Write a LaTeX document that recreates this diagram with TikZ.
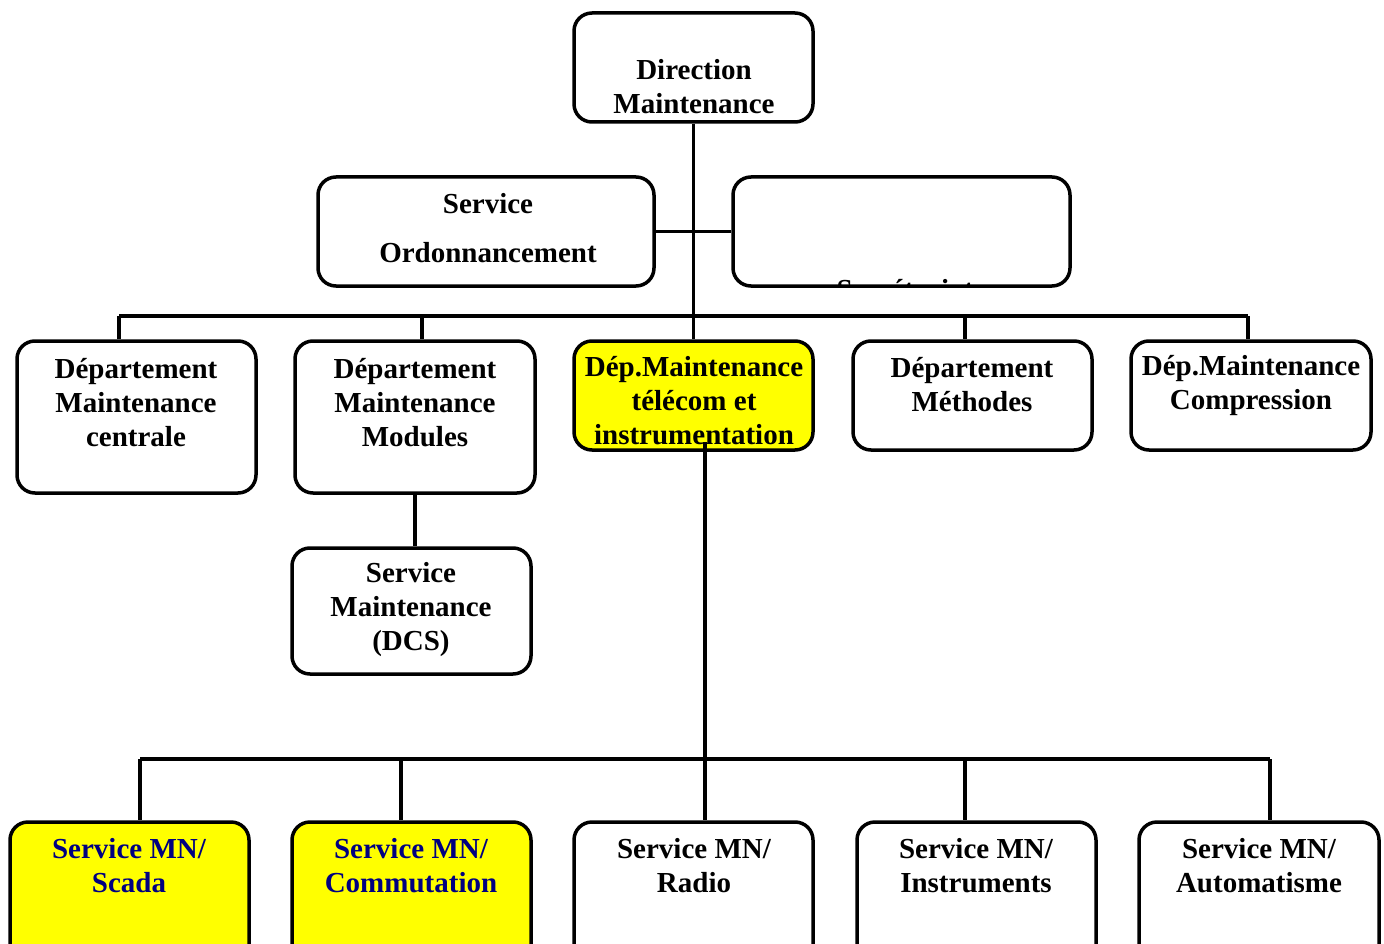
\documentclass[tikz,border=0pt]{standalone}
\usepackage{fontspec}
\setmainfont{Liberation Serif}
\definecolor{navyblue}{RGB}{0,0,128}
\definecolor{hiyellow}{RGB}{255,255,0}
\begin{document}
\begin{tikzpicture}[x=1pt,y=-1pt,
  box/.style={draw=black, line width=3.5pt, rounded corners=18pt, inner sep=0pt, fill=white},
  ybox/.style={box, fill=hiyellow},
  txt/.style={font=\bfseries\fontsize{29}{34}\selectfont, align=center, inner sep=0pt},
  ntxt/.style={txt, text=navyblue},
  conn/.style={line width=3.3pt, draw=black}]
\clip (0,0) rectangle (1384,944);
\useasboundingbox (0,0) rectangle (1384,944);
\fill[white] (0,0) rectangle (1384,944);

% coordinates of bars
\coordinate (t1) at (119,316);
\coordinate (t2) at (422,316);
\coordinate (t4) at (965,316);
\coordinate (t5) at (1248,316);
\coordinate (u1) at (140,759);
\coordinate (u2) at (401,759);
\coordinate (u3) at (705,759);
\coordinate (u4) at (965,759);
\coordinate (u5) at (1270,759);
\coordinate (d3) at (705,442);

% boxes
\node[box, minimum width=239pt, minimum height=109pt] (dir) at (693.5,67.5) {};
\node[box, minimum width=336pt, minimum height=109pt] (ord) at (486,231.5) {};
\node[box, minimum width=337pt, minimum height=109pt] (sec) at (901.5,231.5) {};
\node[box, minimum width=239pt, minimum height=152pt] (c1) at (136.5,417) {};
\node[box, minimum width=240pt, minimum height=152pt] (c2) at (415,417) {};
\node[ybox, minimum width=239pt, minimum height=109pt] (c3) at (693.5,395.5) {};
\node[box, minimum width=239pt, minimum height=109pt] (c4) at (972.5,395.5) {};
\node[box, minimum width=240pt, minimum height=109pt] (c5) at (1251,395.5) {};
\node[box, minimum width=239pt, minimum height=126pt] (dcs) at (411.5,611) {};
\node[ybox, minimum width=239pt, minimum height=143pt] (s1) at (129.5,893.5) {};
\node[ybox, minimum width=239pt, minimum height=143pt] (s2) at (411.5,893.5) {};
\node[box, minimum width=239pt, minimum height=143pt] (s3) at (693.5,893.5) {};
\node[box, minimum width=239pt, minimum height=143pt] (s4) at (976.5,893.5) {};
\node[box, minimum width=240pt, minimum height=143pt] (s5) at (1259,893.5) {};

% connectors
\draw[conn] (dir.south) -- (c3.north);
\draw[conn] (ord.east) -- (sec.west);
\draw[conn] (t1) -- (t5);
\draw[conn] (t1) -- (t1 |- c1.north);
\draw[conn] (t2) -- (t2 |- c2.north);
\draw[conn] (t4) -- (t4 |- c4.north);
\draw[conn] (t5) -- (t5 |- c5.north);
\draw[conn] (c2.south) -- (c2.south |- dcs.north);
\draw[conn] (d3) -- (d3 |- s3.north);
\draw[conn] (u1) -- (u5);
\draw[conn] (u1) -- (u1 |- s1.north);
\draw[conn] (u2) -- (u2 |- s2.north);
\draw[conn] (u4) -- (u4 |- s4.north);
\draw[conn] (u5) -- (u5 |- s5.north);

% texts
\node[txt] (tdir) at (694,87) {Direction\\Maintenance};
\node[txt] (tord) at (488,228) {Service\\[15pt]Ordonnancement};
\begin{scope}
  \clip (735,179) rectangle (1068,284);
  \node[txt, anchor=base] (tsec) at (905,299) {Secrétariat};
\end{scope}
\node[txt] (tc1) at (136,403) {Département\\Maintenance\\centrale};
\node[txt] (tc2) at (415,403) {Département\\Maintenance\\Modules};
\node[txt] (tc3) at (694,401) {Dép.Maintenance\\télécom et\\instrumentation};
\node[txt] (tc4) at (972,385) {Département\\Méthodes};
\node[txt] (tc5) at (1251,386) {Dép.Maintenance\\Compression};
\node[txt] (tdcs) at (411,610) {Service\\Maintenance\\(DCS)};
\node[ntxt] (ts1) at (129,866) {Service MN/\\Scada};
\node[ntxt] (ts2) at (411,866) {Service MN/\\Commutation};
\node[txt] (ts3) at (694,866) {Service MN/\\Radio};
\node[txt] (ts4) at (976,866) {Service MN/\\Instruments};
\node[txt] (ts5) at (1259,866) {Service MN/\\Automatisme};
\end{tikzpicture}
\end{document}
